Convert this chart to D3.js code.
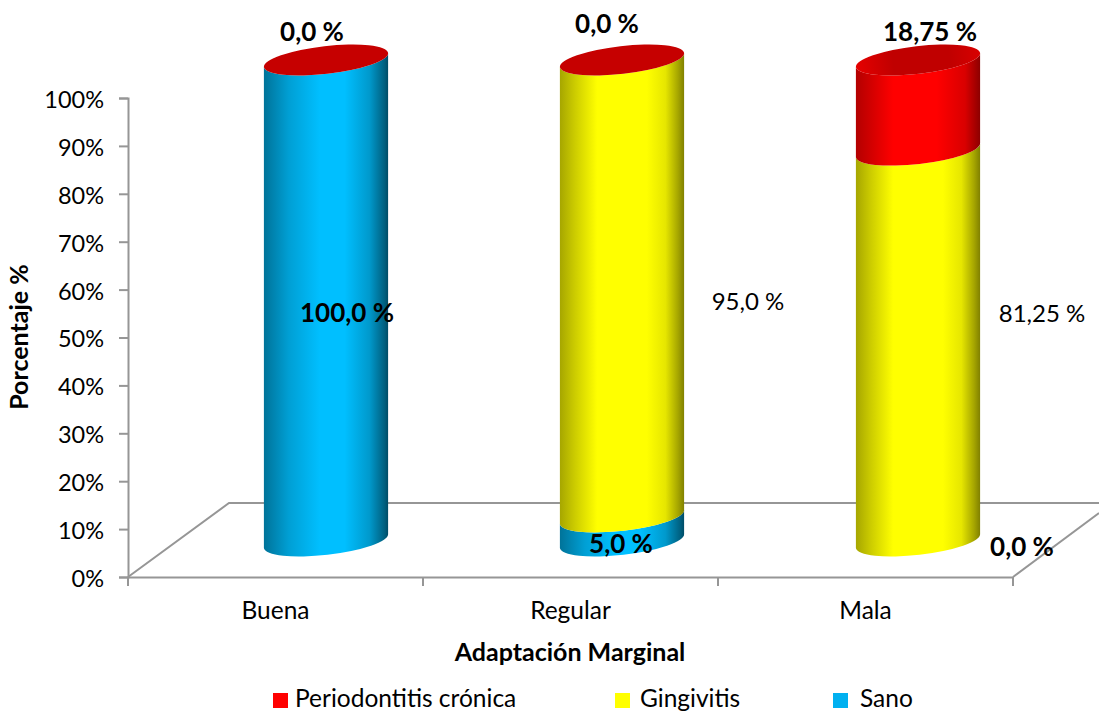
<!DOCTYPE html>
<html>
<head>
<meta charset="utf-8">
<script src="https://cdn.jsdelivr.net/npm/d3@7"></script>
<style>
  html, body { margin: 0; padding: 0; background: #fff; overflow: hidden; }
  svg { display: block; font-family: Lato, "Open Sans", sans-serif; }
</style>
</head>
<body>
<svg id="chart" width="1099" height="712"></svg>
<script>
const categories = ["Buena", "Regular", "Mala"];
const seriesNames = ["Sano", "Gingivitis", "Periodontitis crónica"];
const sano = [100, 5, 0];
const gingivitis = [0, 95, 81.25];
const periodontitis = [0, 0, 18.75];
const seriesValues = [sano, gingivitis, periodontitis];
const yTicks = [0, 10, 20, 30, 40, 50, 60, 70, 80, 90, 100];
const legendOrder = ["Periodontitis crónica", "Gingivitis", "Sano"];
const seriesColour = { "Sano": "#00bfff", "Gingivitis": "#ffff00", "Periodontitis crónica": "#ff0000" };
const legendColour = { "Sano": "#00b0f0", "Gingivitis": "#ffff00", "Periodontitis crónica": "#ff0000" };
// offset / brightness pairs for the side shading of each series
const shadeStops = {
  "Sano": [[0, 0.6], [0.2, 0.83], [0.45, 1], [0.65, 1], [0.85, 0.8], [0.97, 0.5], [1, 0.4]],
  "Gingivitis": [[0, 0.65], [0.12, 0.8], [0.3, 1], [0.7, 1], [0.85, 0.9], [0.95, 0.65], [1, 0.5]],
  "Periodontitis crónica": [[0, 0.7], [0.1, 0.8], [0.3, 1], [0.65, 1], [0.88, 0.85], [1, 0.55]]
};
const dataLabels = [
  { text: "0,0 %", value: periodontitis[0], x: 312, y: 41, bold: true },
  { text: "0,0 %", value: periodontitis[1], x: 607, y: 33, bold: true },
  { text: "18,75 %", value: periodontitis[2], x: 930, y: 41, bold: true },
  { text: "100,0 %", value: sano[0], x: 347, y: 322, bold: true },
  { text: "95,0 %", value: gingivitis[1], x: 748, y: 310, bold: false },
  { text: "81,25 %", value: gingivitis[2], x: 1042, y: 322, bold: false },
  { text: "5,0 %", value: sano[1], x: 621, y: 553, bold: true },
  { text: "0,0 %", value: sano[2], x: 1022, y: 556, bold: true }
];

const svg = d3.select("#chart");
const axisColour = "#969696";

// front plane of the chart (axis) and cylinder plane set back into the floor
const x = d3.scaleBand().domain(categories).range([128, 1013]);
const y = d3.scaleLinear().domain([0, 100]).range([577, 98]);
const cylX = d3.scalePoint().domain(categories).range([326, 918]);
const cylY = d3.scaleLinear().domain([0, 100]).range([541, 60]);

const rx = 62.5, ry = 13.8, tilt = -6.5;
const dx = rx * Math.cos(tilt * Math.PI / 180);
const dy = rx * Math.sin(tilt * Math.PI / 180);

// horizontal shading, one gradient per series
const defs = svg.append("defs");
seriesNames.forEach((name, i) => {
  const base = d3.rgb(seriesColour[name]);
  const grad = defs.append("linearGradient").attr("id", "shade" + i);
  shadeStops[name].forEach(s => {
    grad.append("stop")
      .attr("offset", s[0])
      .attr("stop-color", d3.rgb(base.r * s[1], base.g * s[1], base.b * s[1]));
  });
});
const lidGrad = defs.append("linearGradient").attr("id", "lidShade");
[[0, "#e60000"], [0.3, "#c00000"], [0.75, "#c00000"], [1, "#d80000"]].forEach(s => {
  lidGrad.append("stop").attr("offset", s[0]).attr("stop-color", s[1]);
});

// floor of the 3D plot
const floor = svg.append("g").attr("fill", "none").attr("stroke", axisColour).attr("stroke-width", 2);
floor.append("path").attr("d", "M128,577L229,503L1099,503");
floor.append("path").attr("d", "M1013,577L1099,513");

// axes
const yAxis = d3.axisLeft(y).tickValues(yTicks).tickFormat(d => d + "%").tickSize(9).tickPadding(15);
const xAxis = d3.axisBottom(x).tickSize(0).tickPadding(25);

const gy = svg.append("g").attr("transform", "translate(128,0)").call(yAxis);
gy.select(".domain").attr("stroke", axisColour).attr("stroke-width", 2);
gy.selectAll("line").attr("stroke", axisColour).attr("stroke-width", 2);
gy.selectAll("text").attr("fill", "#000").attr("font-size", 23.5).attr("font-family", "Lato").attr("dy", "0.4em");

const gx = svg.append("g").attr("transform", "translate(0,577)").call(xAxis);
gx.select(".domain").attr("stroke", axisColour).attr("stroke-width", 2);
gx.selectAll("text").attr("fill", "#000").attr("font-size", 24.5).attr("font-family", "Lato");
gx.selectAll(".edge").data(x.domain().map(d => x(d)).concat([x.range()[1]]))
  .enter().append("line")
  .attr("class", "edge")
  .attr("x1", d => d).attr("x2", d => d)
  .attr("y1", 0).attr("y2", 9)
  .attr("stroke", axisColour).attr("stroke-width", 2);

// cylinders, stacked from the bottom up
const cylinders = svg.append("g");
categories.forEach((cat, c) => {
  const cx = cylX(cat);
  let sum = 0;
  seriesNames.forEach((name, s) => {
    const v = seriesValues[s][c];
    if (v <= 0) return;
    const y0 = cylY(sum), y1 = cylY(sum + v);
    sum += v;
    cylinders.append("path")
      .attr("fill", `url(#shade${s})`)
      .attr("d", `M${cx - dx},${y0 - dy}` +
        `A${rx},${ry} ${tilt} 0 0 ${cx + dx},${y0 + dy}` +
        `L${cx + dx},${y1 + dy}` +
        `A${rx},${ry} ${tilt} 0 1 ${cx - dx},${y1 - dy}Z`);
  });
  // the lid is always red; it picks up a lighter rim when the red segment has height
  cylinders.append("ellipse")
    .attr("cx", cx).attr("cy", cylY(sum))
    .attr("rx", rx).attr("ry", ry)
    .attr("transform", `rotate(${tilt} ${cx} ${cylY(sum)})`)
    .attr("fill", periodontitis[c] > 0 ? "url(#lidShade)" : "#c60000");
});

// value labels
svg.append("g").selectAll("text")
  .data(dataLabels)
  .enter().append("text")
  .attr("x", d => d.x).attr("y", d => d.y)
  .attr("text-anchor", "middle")
  .attr("font-size", d => d.bold ? 26 : 24)
  .attr("font-weight", d => d.bold ? 700 : 400)
  .text(d => d.text);

// axis titles
svg.append("text")
  .attr("x", 570).attr("y", 661)
  .attr("text-anchor", "middle")
  .attr("font-size", 25).attr("font-weight", 700)
  .text("Adaptación Marginal");
svg.append("text")
  .attr("transform", "translate(28,337) rotate(-90)")
  .attr("text-anchor", "middle")
  .attr("font-size", 25).attr("font-weight", 700)
  .text("Porcentaje %");

// legend
const legendX = d3.scaleOrdinal().domain(legendOrder).range([273, 615, 833]);
const legendTextX = d3.scaleOrdinal().domain(legendOrder).range([22, 25, 27]);
const legend = svg.append("g").selectAll("g")
  .data(legendOrder)
  .enter().append("g")
  .attr("transform", d => `translate(${legendX(d)},693)`);
legend.append("rect")
  .attr("width", 15).attr("height", 15)
  .attr("fill", d => legendColour[d]);
legend.append("text")
  .attr("x", d => legendTextX(d)).attr("y", 14)
  .attr("font-size", 24.5)
  .text(d => d);
</script>
</body>
</html>
